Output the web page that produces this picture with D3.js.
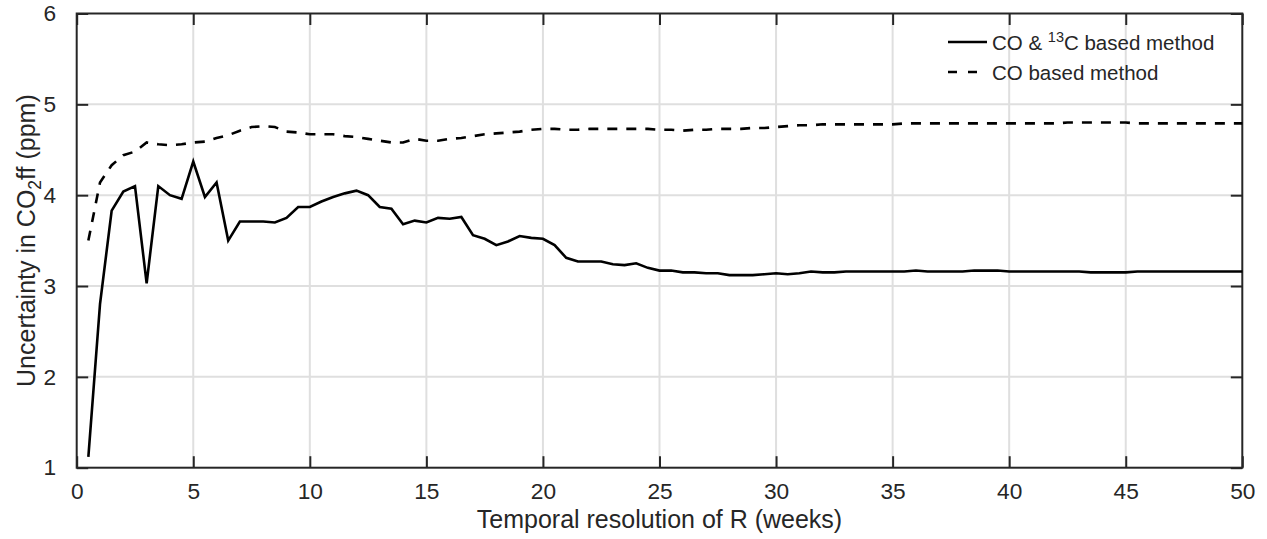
<!DOCTYPE html>
<html><head><meta charset="utf-8">
<script src="https://cdn.jsdelivr.net/npm/d3@7"></script>
<style>body{margin:0;background:#fff}svg{display:block}text{font-family:"Liberation Sans",Arial,Helvetica,sans-serif;fill:#262626}</style>
</head><body><svg id="c" width="1267" height="539"></svg>
<script>
const weeks = [0.5,1,1.5,2,2.5,3,3.5,4,4.5,5,5.5,6,6.5,7,7.5,8,8.5,9,9.5,10,
10.5,11,11.5,12,12.5,13,13.5,14,14.5,15,15.5,16,16.5,17,17.5,18,18.5,19,19.5,20,
20.5,21,21.5,22,22.5,23,23.5,24,24.5,25,25.5,26,26.5,27,27.5,28,28.5,29,29.5,30,
30.5,31,31.5,32,32.5,33,33.5,34,34.5,35,35.5,36,36.5,37,37.5,38,38.5,39,39.5,40,
40.5,41,41.5,42,42.5,43,43.5,44,44.5,45,45.5,46,46.5,47,47.5,48,48.5,49,49.5,50];
const coC13 = [1.12,2.80,3.83,4.04,4.10,3.03,4.10,4.00,3.96,4.37,3.98,4.14,3.50,3.71,3.71,3.71,3.70,3.75,3.87,3.87,
3.93,3.98,4.02,4.05,4.00,3.87,3.85,3.68,3.72,3.70,3.75,3.74,3.76,3.56,3.52,3.45,3.49,3.55,3.53,3.52,
3.45,3.31,3.27,3.27,3.27,3.24,3.23,3.25,3.20,3.17,3.17,3.15,3.15,3.14,3.14,3.12,3.12,3.12,3.13,3.14,
3.13,3.14,3.16,3.15,3.15,3.16,3.16,3.16,3.16,3.16,3.16,3.17,3.16,3.16,3.16,3.16,3.17,3.17,3.17,3.16,
3.16,3.16,3.16,3.16,3.16,3.16,3.15,3.15,3.15,3.15,3.16,3.16,3.16,3.16,3.16,3.16,3.16,3.16,3.16,3.16];
const coOnly = [3.50,4.14,4.33,4.44,4.48,4.58,4.56,4.55,4.56,4.58,4.59,4.63,4.66,4.71,4.75,4.76,4.75,4.70,4.69,4.67,
4.67,4.67,4.65,4.64,4.62,4.60,4.58,4.58,4.62,4.60,4.60,4.62,4.63,4.65,4.67,4.68,4.69,4.70,4.72,4.73,
4.73,4.72,4.72,4.73,4.73,4.73,4.73,4.73,4.73,4.72,4.72,4.71,4.72,4.72,4.73,4.73,4.73,4.74,4.74,4.75,
4.76,4.77,4.77,4.78,4.78,4.78,4.78,4.78,4.78,4.78,4.79,4.79,4.79,4.79,4.79,4.79,4.79,4.79,4.79,4.79,
4.79,4.79,4.79,4.79,4.80,4.80,4.80,4.80,4.80,4.80,4.79,4.79,4.79,4.79,4.79,4.79,4.79,4.79,4.79,4.79];
const xTicks = [0,5,10,15,20,25,30,35,40,45,50];
const yTicks = [1,2,3,4,5,6];

const svg = d3.select("#c");
const L = 76.7, R = 1242.3, T = 13.5, B = 467.7;
const x = d3.scaleLinear().domain([0,50]).range([L,R]);
const y = d3.scaleLinear().domain([1,6]).range([B,T]);
const ink = "#262626";

// grid
svg.append("g").selectAll("line").data(xTicks.slice(1,-1)).join("line")
  .attr("x1",d=>x(d)).attr("x2",d=>x(d)).attr("y1",T).attr("y2",B)
  .attr("stroke","#dfdfdf").attr("stroke-width",2);
svg.append("g").selectAll("line").data(yTicks.slice(1,-1)).join("line")
  .attr("y1",d=>y(d)).attr("y2",d=>y(d)).attr("x1",L).attr("x2",R)
  .attr("stroke","#dfdfdf").attr("stroke-width",2);

// axes with inward ticks
const tl = 11.5;
const axB = svg.append("g").attr("transform",`translate(0,${B})`)
  .call(d3.axisBottom(x).tickValues(xTicks).tickSize(-tl).tickPadding(tl+6).tickFormat(d3.format("d")));
const axT = svg.append("g").attr("transform",`translate(0,${T})`)
  .call(d3.axisTop(x).tickValues(xTicks).tickSize(-tl).tickFormat(""));
const axL = svg.append("g").attr("transform",`translate(${L},0)`)
  .call(d3.axisLeft(y).tickValues(yTicks).tickSize(-tl).tickPadding(tl+9).tickFormat(d3.format("d")));
const axR = svg.append("g").attr("transform",`translate(${R},0)`)
  .call(d3.axisRight(y).tickValues(yTicks).tickSize(-tl).tickFormat(""));
[axB,axT,axL,axR].forEach(a=>{
  a.select(".domain").remove();
  a.selectAll(".tick line").attr("stroke",ink).attr("stroke-width",2);
  a.selectAll(".tick text").attr("font-size","22.7px").attr("fill",ink)
   .style("font-family",'"Liberation Sans",Arial,sans-serif');
});
axB.selectAll(".tick text").attr("dy","0.71em").attr("y",15);
svg.append("rect").attr("x",L).attr("y",T).attr("width",R-L).attr("height",B-T)
  .attr("fill","none").attr("stroke",ink).attr("stroke-width",2);

// lines
const line = d3.line().x(d=>x(d[0])).y(d=>y(d[1]));
svg.append("path").datum(weeks.map((w,i)=>[w,coOnly[i]])).attr("d",line)
  .attr("fill","none").attr("stroke","#000").attr("stroke-width",2.6).attr("stroke-dasharray","10,9");
svg.append("path").datum(weeks.map((w,i)=>[w,coC13[i]])).attr("d",line)
  .attr("fill","none").attr("stroke","#000").attr("stroke-width",2.6).attr("stroke-linejoin","miter");

// legend
const lg = svg.append("g");
lg.append("line").attr("x1",948).attr("x2",987).attr("y1",42).attr("y2",42).attr("stroke","#000").attr("stroke-width",2.6);
lg.append("line").attr("x1",948).attr("x2",978).attr("y1",72).attr("y2",72).attr("stroke","#000").attr("stroke-width",2.6).attr("stroke-dasharray","9,11");
const t1 = lg.append("text").attr("x",992).attr("y",49.5).attr("font-size","20.5px");
t1.append("tspan").text("CO & ");
t1.append("tspan").text("13").attr("font-size","14.5px").attr("dy",-8);
t1.append("tspan").text("C based method").attr("dy",8);
lg.append("text").attr("x",992).attr("y",79.5).attr("font-size","20.5px").text("CO based method");

// axis titles
svg.append("text").attr("x",(L+R)/2).attr("y",528).attr("text-anchor","middle").attr("font-size","25px")
  .text("Temporal resolution of R (weeks)");
const yt = svg.append("text").attr("transform",`translate(35,${(T+B)/2}) rotate(-90)`)
  .attr("text-anchor","middle").attr("font-size","25px");
yt.append("tspan").text("Uncertainty in CO");
yt.append("tspan").text("2").attr("font-size","17.5px").attr("dy",6);
yt.append("tspan").text("ff (ppm)").attr("dy",-6);
</script></body></html>
